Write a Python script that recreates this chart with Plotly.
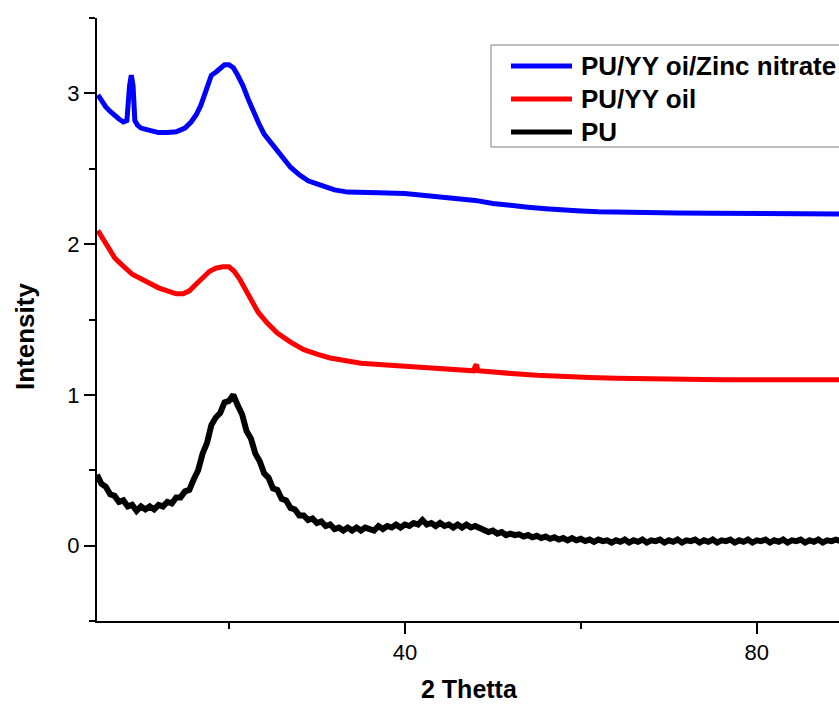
import numpy as np
import plotly.graph_objects as go

# ---------------- data ----------------
pu_x = np.arange(5.0, 89.51, 0.5)
pu_y = [
    0.47, 0.41, 0.39, 0.34, 0.33, 0.29, 0.30, 0.26, 0.27, 0.23,
    0.26, 0.24, 0.26, 0.24, 0.27, 0.26, 0.29, 0.28, 0.32, 0.32,
    0.36, 0.37, 0.44, 0.50, 0.61, 0.68, 0.80, 0.85, 0.88, 0.95,
    0.96, 1.00, 0.93, 0.87, 0.76, 0.71, 0.61, 0.56, 0.48, 0.45,
    0.38, 0.37, 0.31, 0.30, 0.25, 0.24, 0.20, 0.20, 0.17, 0.18,
    0.15, 0.16, 0.13, 0.14, 0.11, 0.12, 0.10, 0.12, 0.10, 0.12,
    0.10, 0.12, 0.11, 0.10, 0.13, 0.11, 0.13, 0.12, 0.14, 0.12,
    0.14, 0.13, 0.15, 0.14, 0.17, 0.14, 0.15, 0.13, 0.15, 0.13,
    0.14, 0.12, 0.14, 0.12, 0.14, 0.12, 0.13, 0.12, 0.11, 0.09,
    0.10, 0.08, 0.09, 0.07, 0.08, 0.07, 0.075, 0.06, 0.07, 0.055,
    0.065, 0.05, 0.06, 0.045, 0.055, 0.04, 0.05, 0.035, 0.05, 0.035,
    0.045, 0.03, 0.04, 0.025, 0.04, 0.03, 0.035, 0.02, 0.035, 0.025,
    0.04, 0.02, 0.035, 0.025, 0.04, 0.02, 0.035, 0.03, 0.04, 0.02,
    0.035, 0.025, 0.04, 0.02, 0.035, 0.03, 0.04, 0.02, 0.035, 0.025,
    0.04, 0.02, 0.035, 0.03, 0.04, 0.02, 0.035, 0.025, 0.04, 0.02,
    0.035, 0.03, 0.04, 0.02, 0.035, 0.025, 0.04, 0.02, 0.035, 0.03,
    0.04, 0.02, 0.035, 0.025, 0.04, 0.02, 0.035, 0.03, 0.04, 0.03,
]

oil_x = [5.1, 5.5, 6, 6.5, 7, 7.5, 8, 9, 10, 11, 12, 13, 14, 14.8, 15.5,
         16.2, 17.0, 17.8, 18.5, 19.3, 20.0, 20.6, 21.2, 21.8, 22.5, 23.3,
         24.3, 25.5, 27, 28.5, 30, 31.5, 33, 35, 37.5, 40, 42.5, 45, 47.8,
         48.0, 48.15, 48.3, 50, 52.5, 55, 58, 61, 64, 68, 72, 76, 80,
         85, 89.5]
oil_y = [2.09, 2.05, 2.00, 1.95, 1.91, 1.88, 1.85, 1.80, 1.77, 1.74, 1.71,
         1.69, 1.67, 1.67, 1.69, 1.73, 1.78, 1.82, 1.84, 1.85, 1.85, 1.82,
         1.77, 1.71, 1.63, 1.55, 1.48, 1.41, 1.35, 1.30, 1.27, 1.245, 1.23,
         1.21, 1.20, 1.19, 1.18, 1.17, 1.16, 1.19, 1.20, 1.16, 1.155,
         1.14, 1.13, 1.12, 1.115, 1.11, 1.105, 1.105, 1.10, 1.10, 1.10, 1.10]

zn_x = [5.1, 5.5, 6, 6.5, 7, 7.5, 8, 8.4, 8.7, 8.9, 9.1, 9.3, 9.6, 10, 11,
        12, 13, 14, 15, 15.7, 16.3, 16.8, 17.4, 18.0, 18.5, 19.0, 19.5,
        20.0, 20.5, 21.0, 21.6, 22.2, 22.8, 23.4, 24.0, 24.8, 25.6, 26.3,
        27.0, 28.0, 29.0, 30.0, 31.0, 32.0, 33.5, 35, 37, 40, 43, 46, 48,
        50, 52, 54, 56, 58, 60, 62, 65, 68, 71, 75, 80, 85, 89.5]
zn_y = [2.99, 2.95, 2.91, 2.88, 2.85, 2.83, 2.81, 2.82, 3.05, 3.12, 3.05,
        2.82, 2.79, 2.77, 2.755, 2.74, 2.74, 2.745, 2.77, 2.81, 2.86, 2.92,
        3.02, 3.12, 3.14, 3.16, 3.19, 3.19, 3.17, 3.12, 3.05, 2.96, 2.87,
        2.80, 2.73, 2.67, 2.61, 2.56, 2.51, 2.46, 2.42, 2.40, 2.38, 2.36,
        2.345, 2.34, 2.34, 2.335, 2.32, 2.305, 2.29, 2.27, 2.255, 2.245,
        2.235, 2.225, 2.22, 2.215, 2.21, 2.21, 2.207, 2.205, 2.203, 2.2, 2.2]

names = ["PU/YY oi/Zinc nitrate", "PU/YY oil", "PU"]
colors = ["#0000FF", "#FF0000", "#000000"]

FONT = "Liberation Sans, Arial, sans-serif"

fig = go.Figure()
fig.add_trace(go.Scatter(x=pu_x, y=pu_y, mode="lines", name=names[2],
                         line=dict(color=colors[2], width=6)))
fig.add_trace(go.Scatter(x=oil_x, y=oil_y, mode="lines", name=names[1],
                         line=dict(color=colors[1], width=5)))
fig.add_trace(go.Scatter(x=zn_x, y=zn_y, mode="lines", name=names[0],
                         line=dict(color=colors[0], width=5)))

L, T, B = 97, 18, 83
W, H = 839, 704
pw, ph = W - L, H - T - B

def px2x(p):
    return (p - L) / pw

def py2y(p):
    return (H - B - p) / ph

shapes = [dict(type="rect", xref="paper", yref="paper",
               x0=px2x(491), x1=px2x(900), y0=py2y(147), y1=py2y(45),
               line=dict(color="#808080", width=1), fillcolor="white",
               layer="above")]
annotations = []
rows = [66, 99, 132]
for name, col, ry in zip(names, colors, rows):
    shapes.append(dict(type="line", xref="paper", yref="paper",
                       x0=px2x(511), x1=px2x(572), y0=py2y(ry), y1=py2y(ry),
                       line=dict(color=col, width=5), layer="above"))
    annotations.append(dict(xref="paper", yref="paper", x=px2x(579), y=py2y(ry),
                            xanchor="left", yanchor="middle", showarrow=False,
                            text="<b>%s</b>" % name,
                            font=dict(family=FONT, size=26, color="black")))

annotations.append(dict(xref="paper", yref="paper", x=px2x(469), y=py2y(689),
                        xanchor="center", yanchor="middle", showarrow=False,
                        text="<b>2 Thetta</b>",
                        font=dict(family=FONT, size=25, color="black")))
annotations.append(dict(xref="paper", yref="paper", x=px2x(25), y=py2y(337),
                        xanchor="center", yanchor="middle", showarrow=False,
                        textangle=-90, text="<b>Intensity</b>",
                        font=dict(family=FONT, size=26, color="black")))

fig.update_layout(
    width=W, height=H,
    margin=dict(l=L, r=0, t=T, b=B, autoexpand=False),
    paper_bgcolor="white", plot_bgcolor="white",
    showlegend=False,
    font=dict(family=FONT, size=22, color="black"),
    shapes=shapes, annotations=annotations,
)
fig.update_xaxes(range=[5, 89.35], showgrid=False, zeroline=False,
                 showline=True, linecolor="black", linewidth=2,
                 ticks="outside", ticklen=11, tickwidth=2, tickcolor="black",
                 tick0=0, dtick=40,
                 minor=dict(ticks="outside", ticklen=6, tickwidth=2,
                            tickcolor="black", tick0=0, dtick=20),
                 tickfont=dict(family=FONT, size=22))
fig.update_yaxes(range=[-0.5, 3.5], showgrid=False, zeroline=False,
                 showline=True, linecolor="black", linewidth=2,
                 ticks="outside", ticklen=11, tickwidth=2, tickcolor="black",
                 tick0=0, dtick=1,
                 minor=dict(ticks="outside", ticklen=6, tickwidth=2,
                            tickcolor="black", tick0=-0.5, dtick=0.5),
                 tickfont=dict(family=FONT, size=22))

fig.write_html("out.html",
               config={"displayModeBar": False},
               post_script="document.body.style.margin='0';"
                           "document.body.style.overflow='hidden';")
